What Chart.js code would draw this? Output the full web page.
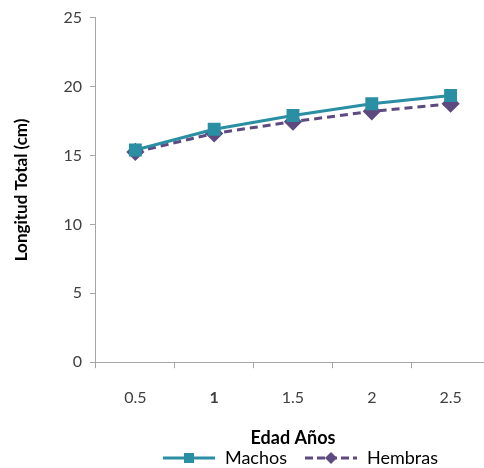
<!DOCTYPE html>
<html>
<head>
<meta charset="utf-8">
<script src="https://cdn.jsdelivr.net/npm/chart.js@4"></script>
<style>
  html, body { margin: 0; padding: 0; background: #fff; overflow: hidden; }
  #wrap { position: absolute; left: 0; top: 0; width: 500px; height: 468px; }
</style>
</head>
<body>
<div id="wrap"><canvas id="myChart" width="500" height="468"></canvas></div>
<script>
const edades = ['0.5', '1', '1.5', '2', '2.5'];
const machos = [15.4, 16.9, 17.9, 18.75, 19.35];
const hembras = [15.25, 16.6, 17.45, 18.2, 18.75];
const yTicks = [0, 5, 10, 15, 20, 25];

const colorMachos = '#2A8FA3';
const colorHembras = '#5E4A80';

// small legend icons: line + marker (blank gap on the left)
const legendIcon = (color, dashed, marker) => {
  const c = document.createElement('canvas');
  c.width = 68;
  c.height = 14;
  const g = c.getContext('2d');
  g.strokeStyle = color;
  g.lineWidth = 3;
  if (dashed) g.setLineDash([8, 4]);
  g.beginPath();
  g.moveTo(15, 7);
  g.lineTo(67, 7);
  g.stroke();
  g.fillStyle = color;
  if (marker === 'rect') {
    g.fillRect(36, 2, 10, 10);
  } else {
    g.beginPath();
    g.moveTo(41, 1);
    g.lineTo(47, 7);
    g.lineTo(41, 13);
    g.lineTo(35, 7);
    g.closePath();
    g.fill();
  }
  return c;
};

const ctx = document.getElementById('myChart').getContext('2d');
const myChart = new Chart(ctx, {
  type: 'line',
  data: {
    labels: edades,
    datasets: [{
      label: 'Machos',
      data: machos,
      borderColor: colorMachos,
      backgroundColor: colorMachos,
      borderWidth: 3,
      pointStyle: 'rect',
      pointRadius: 7,
      pointHoverRadius: 7,
      tension: 0,
    }, {
      label: 'Hembras',
      data: hembras,
      borderColor: colorHembras,
      backgroundColor: colorHembras,
      borderWidth: 3,
      borderDash: [8, 5],
      pointStyle: 'rectRot',
      pointRadius: 7,
      pointHoverRadius: 7,
      tension: 0,
    }],
  },
  options: {
    responsive: false,
    animation: false,
    layout: { padding: { left: 11, right: 8, top: 10, bottom: -9 } },
    plugins: {
      tooltip: { enabled: false },
      legend: {
        position: 'bottom',
        fullSize: false,
        labels: {
          font: { family: 'Lato', size: 18 },
          color: '#000',
          padding: 3,
          boxHeight: 14,
          usePointStyle: true,
          pointStyleWidth: 68,
          generateLabels: () => [
            { text: 'Machos', pointStyle: legendIcon(colorMachos, false, 'rect'), fillStyle: colorMachos, strokeStyle: colorMachos, lineWidth: 0, datasetIndex: 0 },
            { text: 'Hembras', pointStyle: legendIcon(colorHembras, true, 'diamond'), fillStyle: colorHembras, strokeStyle: colorHembras, lineWidth: 0, datasetIndex: 1 },
          ],
        },
      },
    },
    scales: {
      x: {
        offset: true,
        grid: {
          offset: true,
          drawOnChartArea: false,
          drawTicks: true,
          tickLength: 6,
          color: '#A6A6A6',
        },
        border: { color: '#A6A6A6', width: 1 },
        ticks: {
          color: '#404040',
          font: (c) => ({ family: 'Lato', size: 16, weight: c.index === 1 ? 'bold' : 'normal' }),
          padding: 20,
        },
        title: {
          display: true,
          text: 'Edad Años',
          color: '#000',
          font: { family: 'Lato', size: 18, weight: 'bold' },
          padding: { top: 0, bottom: -3 },
        },
      },
      y: {
        min: 0,
        max: 25,
        afterBuildTicks: (axis) => {
          axis.ticks = yTicks.map((v) => ({ value: v }));
        },
        grid: {
          drawOnChartArea: false,
          drawTicks: true,
          tickLength: 6,
          color: '#A6A6A6',
        },
        border: { color: '#A6A6A6', width: 1 },
        ticks: {
          color: '#404040',
          font: { family: 'Lato', size: 16 },
          padding: 8,
        },
        title: {
          display: true,
          text: 'Longitud Total (cm)',
          color: '#000',
          font: { family: 'Lato', size: 17, weight: 'bold' },
          padding: { top: 0, bottom: 24 },
        },
      },
    },
  },
});
</script>
</body>
</html>
